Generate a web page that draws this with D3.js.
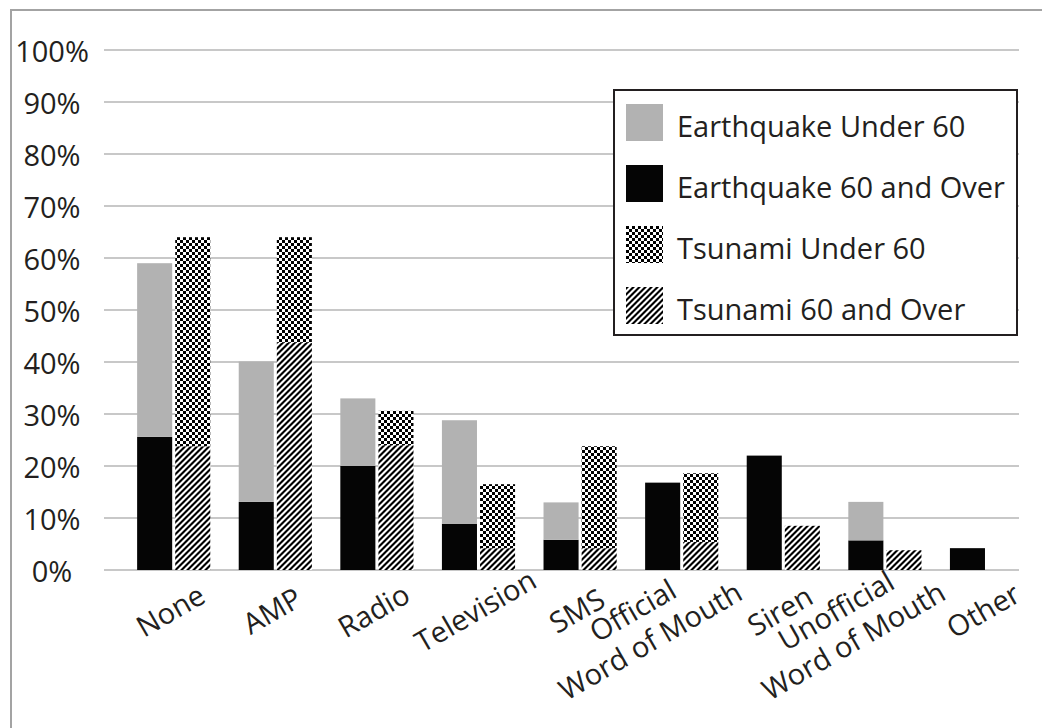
<!DOCTYPE html>
<html>
<head>
<meta charset="utf-8">
<script src="https://cdn.jsdelivr.net/npm/d3@7"></script>
<style>
	body { margin: 0; background: #fff; }
	svg text { font-family: "Open Sans", sans-serif; fill: #231f20; }
</style>
</head>
<body>
<svg id="chart" width="1042" height="728"></svg>
<script>
// categories on the x axis (\n = line break)
var categories = ["None", "AMP", "Radio", "Television", "SMS", "Official\nWord of Mouth",
	"Siren", "Unofficial\nWord of Mouth", "Other"];
// percent values
var eqOver60 = [25.6, 13.1, 20, 8.9, 5.8, 16.8, 22, 5.7, 4.2];
var eqUnder60 = [33.4, 27, 13, 19.9, 7.2, 0, 0, 7.4, 0];
var tsOver60 = [23.8, 43.7, 24, 4.2, 4.2, 5.4, 8.5, 3.8, 0];
var tsUnder60 = [40.2, 20.3, 6.6, 12.3, 19.6, 13.2, 0, 0, 0];
var yTicks = [0, 10, 20, 30, 40, 50, 60, 70, 80, 90, 100];
var legendNames = ["Earthquake Under 60", "Earthquake 60 and Over", "Tsunami Under 60", "Tsunami 60 and Over"];

var svg = d3.select("#chart"),
	margin = {
		top: 50,
		left: 104,
		right: 1019,
		bottom: 570
	};

var fills = {
	eqUnder: "#b2b2b2",
	eqOver: "#050505",
	tsUnder: "url(#pat_check)",
	tsOver: "url(#pat_hatch)"
};

// patterns
var defs = svg.append("defs");
var check = defs.append("pattern").attr("id", "pat_check")
	.attr("patternUnits", "userSpaceOnUse")
	.attr("width", 6).attr("height", 6);
check.append("rect").attr("width", 6).attr("height", 6).attr("fill", "#fff");
check.append("rect").attr("x", 0).attr("y", 0).attr("width", 3).attr("height", 3).attr("fill", "#000");
check.append("rect").attr("x", 3).attr("y", 3).attr("width", 3).attr("height", 3).attr("fill", "#000");

// "/" stripes, black where (x + y) mod 6 < 3
var hatch = defs.append("pattern").attr("id", "pat_hatch")
	.attr("patternUnits", "userSpaceOnUse")
	.attr("width", 6).attr("height", 6);
hatch.append("rect").attr("width", 6).attr("height", 6).attr("fill", "#fff");
hatch.append("path")
	.attr("d", "M0,0L3,0L0,3Z M6,0L6,3L3,6L0,6Z")
	.attr("fill", "#000");

// outer frame
svg.append("rect")
	.attr("x", 11).attr("y", 10)
	.attr("width", 1100).attr("height", 800)
	.attr("fill", "none")
	.attr("stroke", "#a3a3a3")
	.attr("stroke-width", 2);

var y = d3.scaleLinear().domain([0, 100]).range([margin.bottom, margin.top]);
var x = d3.scaleBand().domain(categories)
	.range([122.9, 1037.3])
	.paddingInner(0.28).paddingOuter(0.14);
var sub = d3.scaleBand().domain(["eq", "ts"])
	.range([0, x.bandwidth()])
	.paddingInner(0.08);

// gridlines
svg.append("g").attr("class", "grid")
	.selectAll("line").data(yTicks).enter().append("line")
	.attr("x1", margin.left).attr("x2", margin.right)
	.attr("y1", function(d) { return y(d); })
	.attr("y2", function(d) { return y(d); })
	.attr("stroke", "#c8c8c8")
	.attr("stroke-width", 2);

// y labels
svg.append("g").attr("class", "y_labels")
	.selectAll("text").data(yTicks).enter().append("text")
	.attr("x", 52)
	.attr("y", function(d) { return y(d) + 12; })
	.attr("text-anchor", "middle")
	.attr("font-size", 29)
	.text(function(d) { return d + "%"; });

// bars
var rows = categories.map(function(c, i) {
	return {
		cat: c,
		eqOver: eqOver60[i],
		eqUnder: eqUnder60[i],
		tsOver: tsOver60[i],
		tsUnder: tsUnder60[i]
	};
});
var groups = [
	{ key: "eq", keys: ["eqOver", "eqUnder"] },
	{ key: "ts", keys: ["tsOver", "tsUnder"] }
];
var g_bars = svg.append("g").attr("class", "bars");
groups.forEach(function(grp) {
	var series = d3.stack().keys(grp.keys)(rows);
	series.forEach(function(s) {
		g_bars.append("g")
			.attr("fill", fills[s.key])
			.selectAll("rect").data(s.filter(function(d) { return d[1] - d[0] > 0; }))
			.enter().append("rect")
			.attr("x", function(d) { return x(d.data.cat) + sub(grp.key); })
			.attr("width", sub.bandwidth())
			.attr("y", function(d) { return y(d[1]); })
			.attr("height", function(d) { return y(d[0]) - y(d[1]); });
	});
});

// category labels, rotated
var g_x = svg.append("g").attr("class", "x_labels");
categories.forEach(function(c) {
	var lines = c.split("\n"),
		n = lines.length,
		cx = x(c) + x.bandwidth() / 2 - 3 - 37 * (n - 1),
		cy = 611 + 15 * (n - 1);
	var t = g_x.append("text")
		.attr("transform", "translate(" + cx + "," + cy + ") rotate(-30)")
		.attr("text-anchor", "middle")
		.attr("font-size", 29);
	lines.forEach(function(l, k) {
		t.append("tspan")
			.attr("x", 0)
			.attr("y", (k - (n - 1) / 2) * 35 + 10)
			.text(l);
	});
});

// legend
var legend = svg.append("g").attr("class", "legend");
legend.append("rect")
	.attr("x", 614).attr("y", 90)
	.attr("width", 403).attr("height", 245)
	.attr("fill", "#fff")
	.attr("stroke", "#231f20")
	.attr("stroke-width", 2);
var legendFills = [fills.eqUnder, fills.eqOver, fills.tsUnder, fills.tsOver];
var item = legend.selectAll("g.item").data(legendNames).enter().append("g")
	.attr("class", "item")
	.attr("transform", function(d, i) { return "translate(626," + (104 + i * 61) + ")"; });
item.append("rect")
	.attr("width", 37).attr("height", 37)
	.attr("fill", function(d, i) { return legendFills[i]; });
item.append("text")
	.attr("x", 51).attr("y", 33)
	.attr("font-size", 29)
	.text(function(d) { return d; });
</script>
</body>
</html>
